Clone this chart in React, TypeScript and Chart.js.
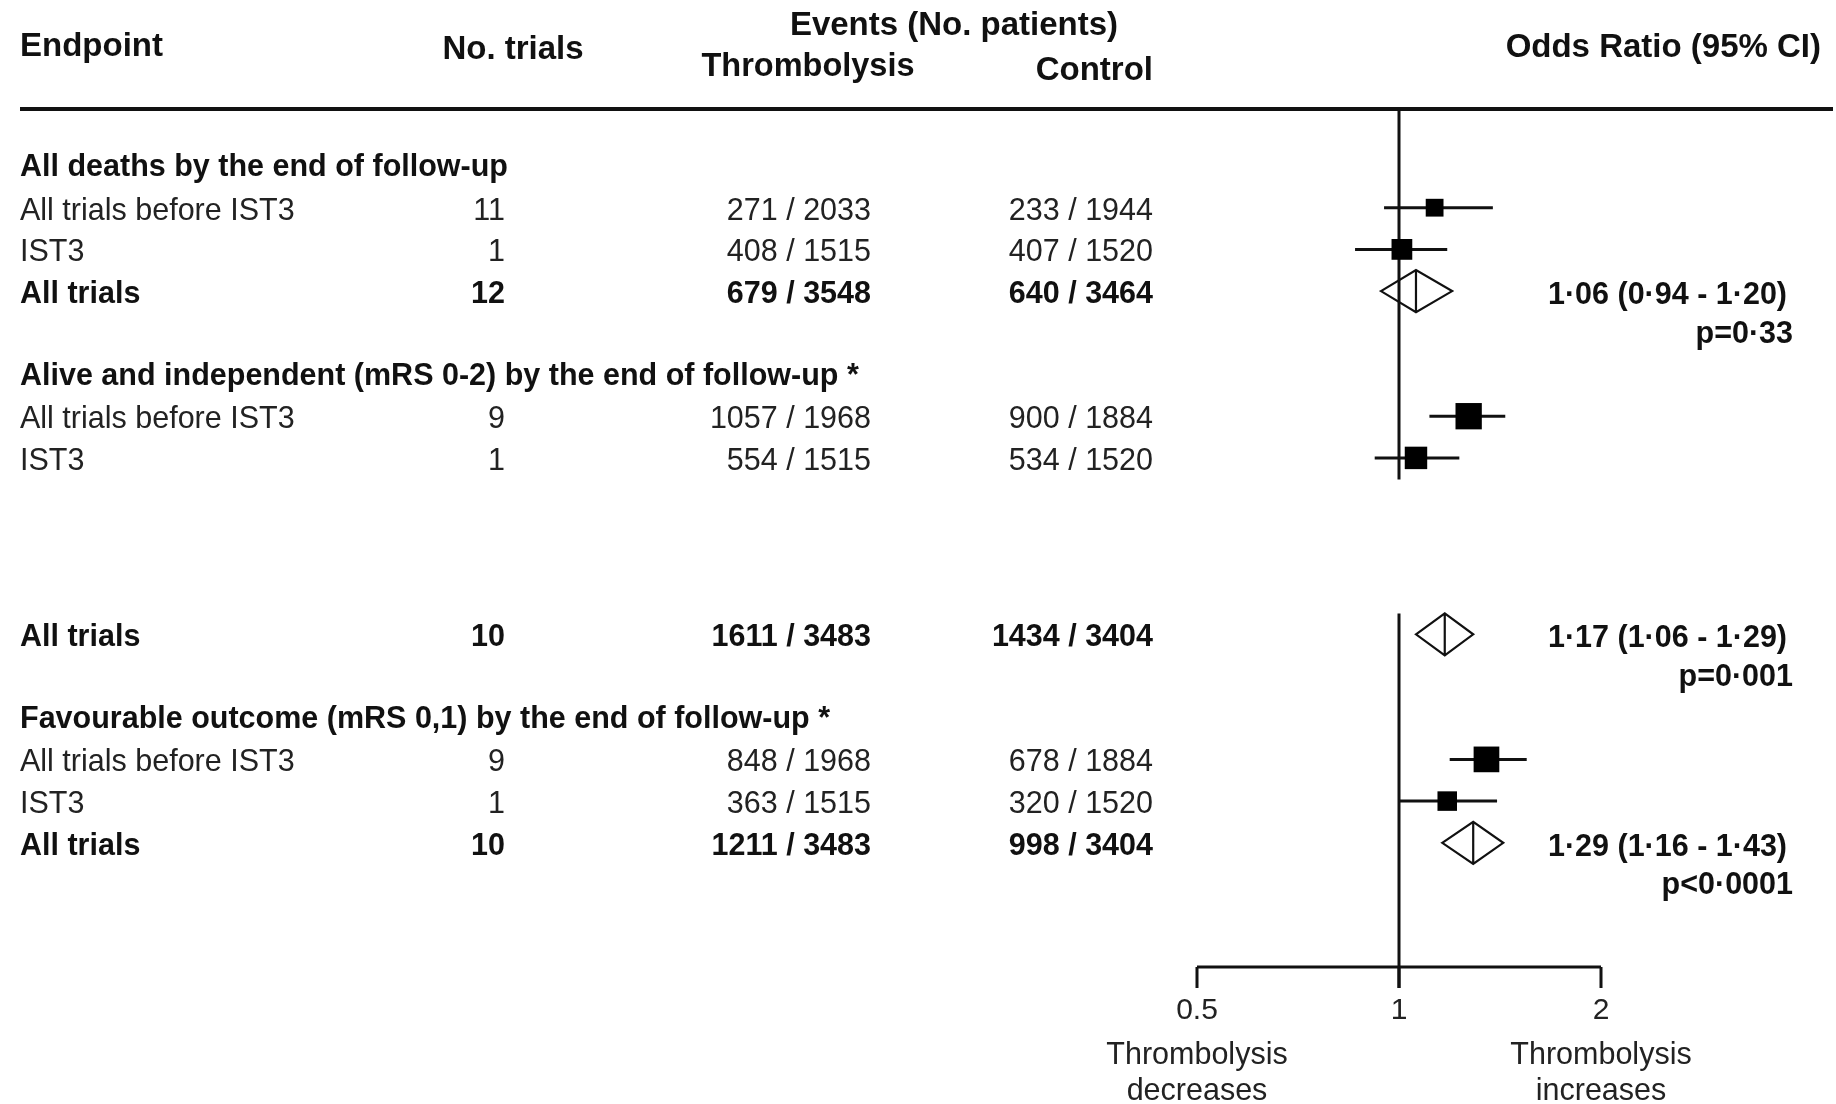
import { useEffect, useRef } from "react";
import { Chart, registerables } from "chart.js";

Chart.register(...registerables);

// ---- data ----
const sectionTitles = [
  "All deaths by the end of follow-up",
  "Alive and independent (mRS 0-2) by the end of follow-up *",
  "Favourable outcome (mRS 0,1) by the end of follow-up *",
];
const sectionP = ["p=0·33", "p=0·001", "p<0·0001"];

const rowSection = [0, 0, 0, 1, 1, 1, 2, 2, 2];
const rowLabels = [
  "All trials before IST3", "IST3", "All trials",
  "All trials before IST3", "IST3", "All trials",
  "All trials before IST3", "IST3", "All trials",
];
const rowPooled = [false, false, true, false, false, true, false, false, true];
const nTrials = [11, 1, 12, 9, 1, 10, 9, 1, 10];
const thrombEvents = [271, 408, 679, 1057, 554, 1611, 848, 363, 1211];
const thrombTotal = [2033, 1515, 3548, 1968, 1515, 3483, 1968, 1515, 3483];
const controlEvents = [233, 407, 640, 900, 534, 1434, 678, 320, 998];
const controlTotal = [1944, 1520, 3464, 1884, 1520, 3404, 1884, 1520, 3404];
const oddsRatio = [1.13, 1.01, 1.06, 1.27, 1.06, 1.17, 1.35, 1.18, 1.29];
const ciLow = [0.95, 0.86, 0.94, 1.11, 0.92, 1.06, 1.19, 1.0, 1.16];
const ciHigh = [1.38, 1.18, 1.2, 1.44, 1.23, 1.29, 1.55, 1.4, 1.43];

const xTicks = [0.5, 1, 2];
const xTickLabels = ["0.5", "1", "2"];
const leftCaption = ["Thrombolysis", "decreases"];
const rightCaption = ["Thrombolysis", "increases"];

// ---- layout ----
const W = 1836;
const H = 1104;
const FONT = "'Liberation Sans', Arial, Helvetica, sans-serif";
const LINE_H = 41.7;
const FIRST_LINE_Y = 166;
const GAP_AFTER_LINE = 8; // blank band before the pooled row of the second block
const GAP_LINES = 3.23;
const X_LEFT_PX = 1197;
const X_RIGHT_PX = 1601;
const AXIS_Y = 967;
const TICK_LEN = 21;

const lineIndex = (i: number) => rowSection[i] * 5 + 1 + (i % 3);
const linePos = (line: number) => line + (line >= GAP_AFTER_LINE ? GAP_LINES : 0);

const fmt = (v: number) => v.toFixed(2).replace(".", "·");

// inverse-variance weight of the log odds ratio -> box side length
const boxSide = (i: number) => {
  const a = thrombEvents[i];
  const b = thrombTotal[i] - a;
  const c = controlEvents[i];
  const d = controlTotal[i] - c;
  const w = 1 / (1 / a + 1 / b + 1 / c + 1 / d);
  return 1.7 * Math.sqrt(w);
};

const forestPlugin = {
  id: "forestTable",
  beforeDatasetsDraw(chart: any) {
    const { ctx } = chart;
    const xs = chart.scales.x;
    const ys = chart.scales.y;
    ctx.save();
    ctx.strokeStyle = "#111";
    ctx.lineCap = "butt";

    // header rule
    ctx.lineWidth = 4;
    ctx.beginPath();
    ctx.moveTo(20, 109);
    ctx.lineTo(1833, 109);
    ctx.stroke();

    // line of no effect, interrupted by the blank band
    const x1 = Math.round(xs.getPixelForValue(1));
    const gapTop = ys.getPixelForValue(GAP_AFTER_LINE - 1 + 0.52);
    const gapBottom = ys.getPixelForValue(GAP_AFTER_LINE + GAP_LINES - 0.5);
    ctx.lineWidth = 3;
    ctx.beginPath();
    ctx.moveTo(x1, 109);
    ctx.lineTo(x1, gapTop);
    ctx.moveTo(x1, gapBottom);
    ctx.lineTo(x1, AXIS_Y + TICK_LEN);
    ctx.stroke();

    // confidence-interval whiskers
    ctx.lineWidth = 3;
    rowPooled.forEach((pooled, i) => {
      if (pooled) return;
      const y = ys.getPixelForValue(linePos(lineIndex(i)));
      ctx.beginPath();
      ctx.moveTo(xs.getPixelForValue(ciLow[i]), y);
      ctx.lineTo(xs.getPixelForValue(ciHigh[i]), y);
      ctx.stroke();
    });

    // x axis bracket
    const xa = xs.getPixelForValue(xTicks[0]);
    const xb = xs.getPixelForValue(xTicks[xTicks.length - 1]);
    ctx.lineWidth = 3;
    ctx.beginPath();
    ctx.moveTo(xa, AXIS_Y);
    ctx.lineTo(xb, AXIS_Y);
    xTicks.forEach((t) => {
      const px = Math.round(xs.getPixelForValue(t));
      ctx.moveTo(px, AXIS_Y);
      ctx.lineTo(px, AXIS_Y + TICK_LEN);
    });
    ctx.stroke();
    ctx.restore();
  },
  afterDatasetsDraw(chart: any) {
    const { ctx } = chart;
    const xs = chart.scales.x;
    const ys = chart.scales.y;
    ctx.save();

    // pooled diamonds
    ctx.strokeStyle = "#111";
    ctx.lineWidth = 2.2;
    ctx.lineJoin = "miter";
    rowPooled.forEach((pooled, i) => {
      if (!pooled) return;
      const y = ys.getPixelForValue(linePos(lineIndex(i)));
      const lo = xs.getPixelForValue(ciLow[i]);
      const hi = xs.getPixelForValue(ciHigh[i]);
      const c = xs.getPixelForValue(oddsRatio[i]);
      const h = 21;
      ctx.beginPath();
      ctx.moveTo(lo, y);
      ctx.lineTo(c, y - h);
      ctx.lineTo(hi, y);
      ctx.lineTo(c, y + h);
      ctx.closePath();
      ctx.moveTo(c, y - h);
      ctx.lineTo(c, y + h);
      ctx.stroke();
    });

    const text = (
      s: string,
      x: number,
      y: number,
      align: CanvasTextAlign,
      size: number,
      bold: boolean,
      color = bold ? "#111" : "#222"
    ) => {
      ctx.font = `${bold ? "bold " : ""}${size}px ${FONT}`;
      ctx.fillStyle = color;
      ctx.textAlign = align;
      ctx.textBaseline = "middle";
      ctx.fillText(s, x, y);
    };

    // column headers
    text("Endpoint", 20, 47, "left", 33, true);
    text("No. trials", 513, 50, "center", 33, true);
    text("Events (No. patients)", 954, 26, "center", 33, true);
    text("Thrombolysis", 808, 67, "center", 32.5, true);
    text("Control", 1153, 71, "right", 33, true);
    text("Odds Ratio (95% CI)", 1821, 48, "right", 33, true);

    // section titles
    sectionTitles.forEach((t, s) => {
      const y = ys.getPixelForValue(linePos(s * 5)) + 2;
      text(t, 20, y, "left", 30.5, true);
    });

    // table rows
    rowLabels.forEach((label, i) => {
      const line = linePos(lineIndex(i));
      const y = ys.getPixelForValue(line) + 3.5;
      const b = rowPooled[i];
      text(label, 20, y, "left", 30.5, b);
      text(String(nTrials[i]), 505, y, "right", 30.5, b);
      text(`${thrombEvents[i]} / ${thrombTotal[i]}`, 871, y, "right", 30.5, b);
      text(`${controlEvents[i]} / ${controlTotal[i]}`, 1153, y, "right", 30.5, b);
      if (b) {
        text(`${fmt(oddsRatio[i])} (${fmt(ciLow[i])} - ${fmt(ciHigh[i])})`, 1787, y + 1, "right", 30.5, true);
        const yp = ys.getPixelForValue(linePos(lineIndex(i) + 1)) + 1.5;
        text(sectionP[rowSection[i]], 1793, yp, "right", 30.5, true);
      }
    });

    // axis tick labels and captions
    xTicks.forEach((t, k) => {
      text(xTickLabels[k], xs.getPixelForValue(t), 1011, "center", 30, false);
    });
    const xl = xs.getPixelForValue(xTicks[0]);
    const xr = xs.getPixelForValue(xTicks[xTicks.length - 1]);
    leftCaption.forEach((s, k) => text(s, xl, 1056 + k * 36, "center", 30.5, false));
    rightCaption.forEach((s, k) => text(s, xr, 1056 + k * 36, "center", 30.5, false));

    ctx.restore();
  },
};

export default function App() {
  const canvasRef = useRef<HTMLCanvasElement | null>(null);

  useEffect(() => {
    const canvas = canvasRef.current;
    if (!canvas) return;

    const idx = rowPooled.map((_p, i) => i).filter((i) => !rowPooled[i]);
    const yMin = -FIRST_LINE_Y / LINE_H;
    const yMax = yMin + H / LINE_H;

    const chart = new Chart(canvas, {
      type: "scatter",
      data: {
        datasets: [
          {
            label: "Odds ratio",
            data: idx.map((i) => ({ x: oddsRatio[i], y: linePos(lineIndex(i)) })),
            pointStyle: "rect",
            pointRadius: idx.map((i) => boxSide(i) / (2 * Math.SQRT1_2)),
            pointHoverRadius: idx.map((i) => boxSide(i) / (2 * Math.SQRT1_2)),
            backgroundColor: "#000",
            borderColor: "#000",
            borderWidth: 0,
          },
        ],
      },
      options: {
        responsive: false,
        animation: false,
        devicePixelRatio: 1,
        layout: {
          autoPadding: false,
          padding: { left: X_LEFT_PX, right: W - X_RIGHT_PX, top: 0, bottom: 0 },
        },
        plugins: { legend: { display: false }, tooltip: { enabled: false } },
        scales: {
          x: { type: "logarithmic", min: 0.5, max: 2, display: false, bounds: "data" },
          y: { type: "linear", min: yMin, max: yMax, reverse: true, display: false, bounds: "data" },
        },
      },
      plugins: [forestPlugin],
    });
    return () => chart.destroy();
  }, []);

  return (
    <div style={{ position: "absolute", left: 0, top: 0, width: W, height: H, background: "#fff" }}>
      <canvas ref={canvasRef} width={W} height={H} style={{ display: "block" }} />
    </div>
  );
}
